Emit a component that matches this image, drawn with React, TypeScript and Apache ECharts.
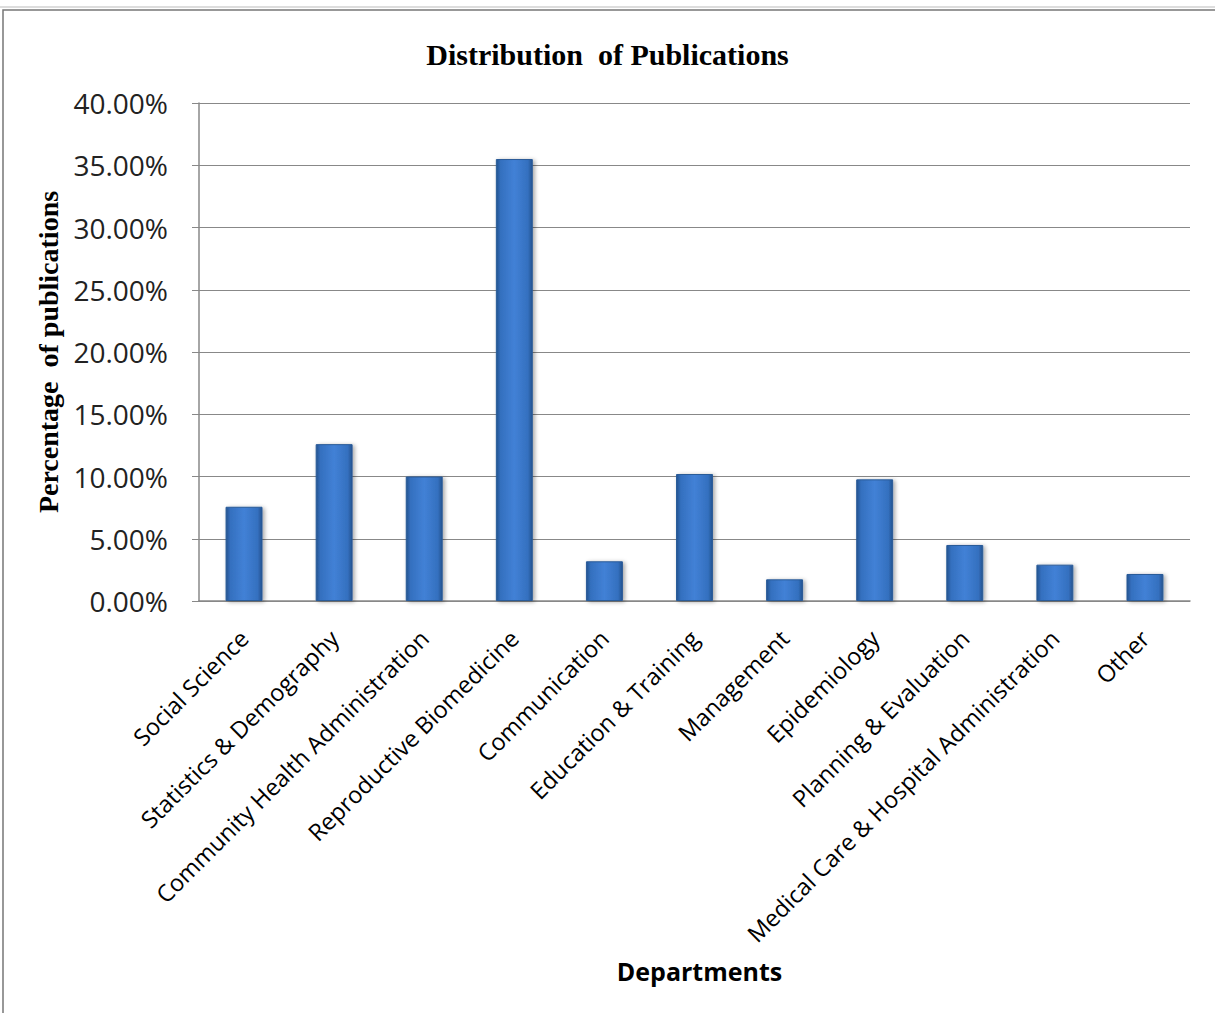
import React, { useEffect, useRef } from "react";
import * as echarts from "echarts";

const categories = [
  "Social Science",
  "Statistics & Demography",
  "Community Health Administration",
  "Reproductive Biomedicine",
  "Communication",
  "Education & Training",
  "Management",
  "Epidemiology",
  "Planning & Evaluation",
  "Medical Care & Hospital Administration",
  "Other",
];
const percentages = [7.57, 12.6, 10.0, 35.5, 3.19, 10.2, 1.74, 9.77, 4.5, 2.92, 2.17];

const titleText = "Distribution  of Publications";
const yAxisTitle = "Percentage  of publications";
const xAxisTitle = "Departments";

export default function App() {
  const ref = useRef<HTMLDivElement>(null);
  useEffect(() => {
    if (!ref.current) return;
    const chart = echarts.init(ref.current, null, { renderer: "svg" });
    const barColor = new echarts.graphic.LinearGradient(0, 0, 1, 0, [
      { offset: 0, color: "#24538f" },
      { offset: 0.12, color: "#3470bf" },
      { offset: 0.5, color: "#4281d6" },
      { offset: 0.88, color: "#3470bf" },
      { offset: 1, color: "#24538f" },
    ]);
    chart.setOption({
      animation: false,
      backgroundColor: "#ffffff",
      title: {
        text: titleText,
        left: "center",
        top: 34,
        textStyle: {
          fontFamily: "Liberation Serif",
          fontWeight: "bold",
          fontSize: 30,
          color: "#000",
        },
      },
      graphic: [
        {
          type: "rect",
          shape: { x: 3, y: 10, width: 1240, height: 1040 },
          style: { fill: "none", stroke: "#777", lineWidth: 1.5 },
        },
        {
          type: "line",
          shape: { x1: 0, y1: 7, x2: 1215, y2: 7 },
          style: { stroke: "#bbb", lineWidth: 1 },
        },
      ],
      grid: { left: 199, right: 25, top: 103, bottom: 412 },
      xAxis: {
        type: "category",
        data: categories,
        name: xAxisTitle,
        nameLocation: "middle",
        nameGap: 357,
        nameTextStyle: {
          fontFamily: "Open Sans",
          fontWeight: "bold",
          fontSize: 25,
          color: "#000",
          padding: [0, 0, 0, 10],
        },
        axisLine: { lineStyle: { color: "#888", width: 1.5 } },
        axisTick: { show: false },
        axisLabel: {
          rotate: 45,
          interval: 0,
          margin: 33,
          fontFamily: "Open Sans",
          fontSize: 23.5,
          color: "#000",
        },
      },
      yAxis: {
        type: "value",
        min: 0,
        max: 40,
        interval: 5,
        name: yAxisTitle,
        nameLocation: "middle",
        nameGap: 136,
        nameTextStyle: {
          fontFamily: "Liberation Serif",
          fontWeight: "bold",
          fontSize: 28,
          color: "#000",
        },
        axisLine: { show: true, lineStyle: { color: "#888", width: 1.5 } },
        axisTick: { show: true, length: 7, lineStyle: { color: "#888" } },
        splitLine: { lineStyle: { color: "#888", width: 1.2 } },
        axisLabel: {
          formatter: (v: number) => v.toFixed(2) + "%",
          margin: 31,
          fontFamily: "Open Sans",
          fontSize: 28,
          color: "#222",
        },
      },
      series: [
        {
          type: "bar",
          data: percentages,
          barWidth: "41%",
          itemStyle: {
            color: barColor,
            borderColor: "#2a5b98",
            borderWidth: 1,
            shadowColor: "rgba(0,0,0,0.35)",
            shadowBlur: 4,
            shadowOffsetX: 2,
            shadowOffsetY: 1,
          },
        },
      ],
    });
    return () => chart.dispose();
  }, []);
  return (
    <div
      ref={ref}
      style={{ position: "fixed", left: 0, top: 0, width: 1215, height: 1013 }}
    />
  );
}
